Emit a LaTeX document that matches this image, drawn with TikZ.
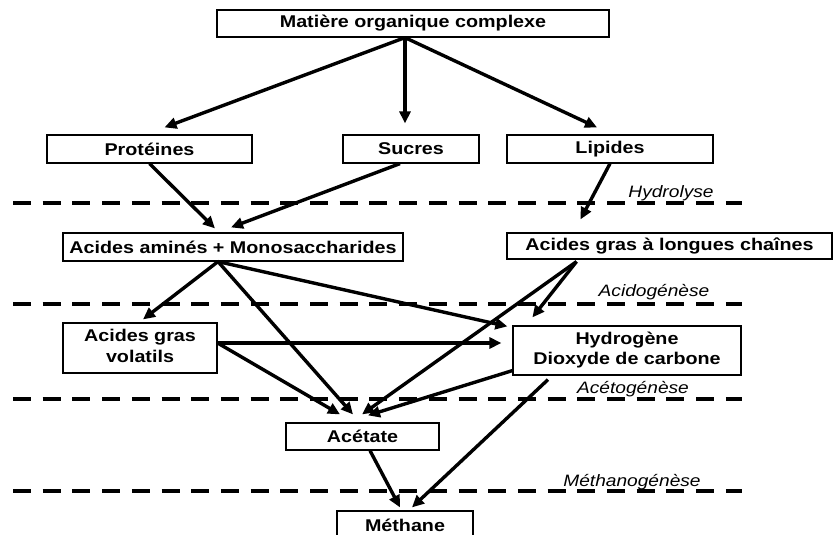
\documentclass[tikz,border=0pt]{standalone}
\usepackage{fontspec}
\setmainfont{Liberation Sans}
\usepackage{graphicx}
\usetikzlibrary{arrows.meta,calc}
% Helvetica-like bold text, slightly widened
\newcommand{\widetxt}[1]{\scalebox{1.16}[1]{#1}}
\newcommand{\twolines}[2]{\scalebox{1.16}[1]{\begin{tabular}{@{}c@{}}#1\\#2\end{tabular}}}
\tikzset{
  box/.style={draw, line width=1.2pt, inner sep=0pt, minimum height=28pt,
    font=\bfseries\fontsize{17}{20.5}\selectfont},
  flow/.style={line width=3.4pt, -{Triangle[length=12pt,width=11pt]}},
  phase/.style={line width=4pt, dash pattern=on 18pt off 11.7pt},
  stage/.style={inner sep=0pt, font=\itshape\fontsize{16.5}{18}\selectfont},
}
\begin{document}
\begin{tikzpicture}[x=1pt,y=-1pt]
\useasboundingbox (0,0) rectangle (833,535);
\clip (0,0) rectangle (833,535);

% boxes
\node[box, minimum width=392pt, minimum height=27pt] (mat) at (413,23.5) {\widetxt{Matière organique complexe}};
\node[box, minimum width=205pt] (prot) at (149.5,149) {\widetxt{Protéines}};
\node[box, minimum width=136pt] (suc) at (411,149) {\widetxt{Sucres}};
\node[box, minimum width=206pt] (lip) at (610,149) {\widetxt{Lipides}};
\node[box, minimum width=340pt] (aam) at (233,247) {\widetxt{Acides aminés + Monosaccharides}};
\node[box, minimum width=325pt, minimum height=26pt] (aglc) at (669.5,246) {\widetxt{Acides gras à longues chaînes}};
\node[box, minimum width=154pt, minimum height=50pt] (agv) at (140,348) {\twolines{Acides gras}{volatils}};
\node[box, minimum width=228pt, minimum height=49pt] (h2) at (627,350.5) {\twolines{Hydrogène}{Dioxyde de carbone}};
\node[box, minimum width=153pt, minimum height=27pt] (ace) at (362.5,436.5) {\widetxt{Acétate}};
\node[box, minimum width=136pt, minimum height=28pt] (met) at (405,525) {\widetxt{Méthane}};

% stage separators
\foreach \y/\n in {203/a,304/b,399/c,491/d}{
  \coordinate (l\n) at (13,\y);
  \coordinate (r\n) at (742,\y);
  \draw[phase] (l\n) -- (r\n);
}
\node[stage] (hyd) at (671,193) {\widetxt{Hydrolyse}};
\node[stage] (acid) at (654,292) {\widetxt{Acidogénèse}};
\node[stage] (acet) at (633,389) {\widetxt{Acétogénèse}};
\node[stage] (meth) at (632,482) {\widetxt{Méthanogénèse}};

% hydrolysis
\draw[flow] ($(mat.south)+(-8,0)$) -- ($(prot.north)+(15,-7)$);
\draw[flow] ($(mat.south)+(-8,0)$) -- ($(suc.north)+(-6,-11)$);
\draw[flow] ($(mat.south)+(-8,0)$) -- ($(lip.north)+(-13,-7)$);
\draw[flow] (prot.south) -- ($(aam.north)+(-18,-4)$);
\draw[flow] ($(suc.south)+(-11,0)$) -- ($(aam.north)+(-2,-5)$);
\draw[flow] (lip.south) -- ($(aglc.north)+(-89,-13)$);

% acidogenesis
\draw[flow] ($(aam.south)+(-15,0)$) -- ($(agv.north)+(3,-3)$);
\draw[flow] ($(aam.south)+(-15,0)$) -- ($(ace.north)+(-9.5,-8)$);
\draw[flow] ($(aam.south)+(-15,0)$) -- ($(h2.north west)+(-5,1)$);
\draw[flow] ($(aglc.south)+(-93,2)$) -- ($(ace.north)+(-0.5,-8)$);
\draw[flow] ($(aglc.south)+(-93,2)$) -- ($(h2.north west)+(20,-8)$);

% acetogenesis
\draw[flow] ($(agv.east)+(0,-5)$) -- ($(h2.west)+(-11,-7.5)$);
\draw[flow] ($(agv.east)+(0,-5)$) -- ($(ace.north)+(-22.5,-8)$);
\draw[flow] ($(h2.south west)+(0,-5)$) -- ($(ace.north)+(5.5,-7)$);

% methanogenesis
\draw[flow] ($(h2.south)+(-79,4)$) -- ($(met.north)+(7,-3)$);
\draw[flow] ($(ace.south)+(7.5,0)$) -- ($(met.north)+(-5,-3)$);
\end{tikzpicture}
\end{document}
